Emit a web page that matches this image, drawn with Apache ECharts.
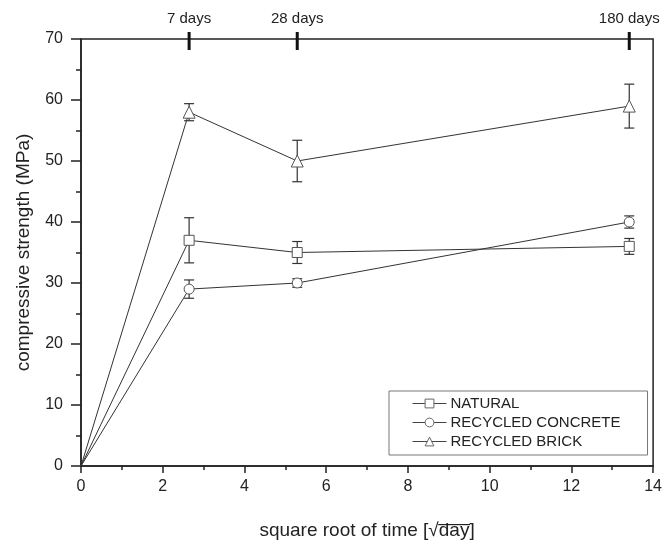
<!DOCTYPE html>
<html>
<head>
<meta charset="utf-8">
<script src="https://cdn.jsdelivr.net/npm/echarts@6/dist/echarts.min.js"></script>
<style>
  html, body { margin: 0; padding: 0; background: #fff; }
  #chart { width: 665px; height: 549px; }
</style>
</head>
<body>
<div id="chart"></div>
<script>
// age of the specimens in days, plotted on a sqrt(day) axis
const ages = [0, 7, 28, 180];
const topTickAges = [7, 28, 180];

// compressive strength (MPa) and error bar half-widths
const natural = [0, 37, 35, 36];
const naturalErr = [0, 3.7, 1.8, 1.3];
const recycledConcrete = [0, 29, 30, 40];
const recycledConcreteErr = [0, 1.5, 0.7, 1.0];
const recycledBrick = [0, 58, 50, 59];
const recycledBrickErr = [0, 1.4, 3.4, 3.6];

const seriesNames = ['NATURAL', 'RECYCLED CONCRETE', 'RECYCLED BRICK'];
const symbols = ['rect', 'circle', 'triangle'];

const xs = ages.map(a => Math.sqrt(a));
const topTicks = topTickAges.map(a => Math.sqrt(a));

const FONT = 'Liberation Sans, Arial, sans-serif';
const INK = '#222';
const Y_MAX = 70;

function lineSeries(name, values, symbol) {
    return {
        name: name,
        type: 'line',
        // no marker at the origin
        data: xs.map((x, i) => i === 0 ? { value: [x, values[i]], symbol: 'none' } : [x, values[i]]),
        symbol: symbol,
        symbolSize: symbol === 'triangle' ? 12 : 10,
        showAllSymbol: true,
        lineStyle: { color: '#333', width: 1 },
        itemStyle: { color: '#fff', borderColor: '#555', borderWidth: 1 },
        z: 3
    };
}

function errorSeries(values, errs) {
    return {
        type: 'custom',
        data: xs.map((x, i) => [x, values[i], errs[i]]).filter(d => d[2] > 0),
        renderItem: function(params, api) {
            const x = api.value(0), y = api.value(1), e = api.value(2);
            const hi = api.coord([x, y + e]);
            const lo = api.coord([x, y - e]);
            const w = 5;
            const style = { stroke: '#333', lineWidth: 1.2 };
            return {
                type: 'group',
                children: [
                    { type: 'line', shape: { x1: hi[0], y1: hi[1], x2: lo[0], y2: lo[1] }, style: style },
                    { type: 'line', shape: { x1: hi[0] - w, y1: hi[1], x2: hi[0] + w, y2: hi[1] }, style: style },
                    { type: 'line', shape: { x1: lo[0] - w, y1: lo[1], x2: lo[0] + w, y2: lo[1] }, style: style }
                ]
            };
        },
        z: 2,
        silent: true
    };
}

// age ticks crossing the top border (axisTick.customValues lands on the wrong side)
const ageTicks = {
    type: 'custom',
    data: topTicks.map(t => [t, Y_MAX]),
    renderItem: function(params, api) {
        const p = api.coord([api.value(0), api.value(1)]);
        return {
            type: 'line',
            shape: { x1: p[0], y1: p[1] - 7, x2: p[0], y2: p[1] + 11 },
            style: { stroke: '#111', lineWidth: 3 }
        };
    },
    clip: false,
    silent: true,
    z: 4
};

const chart = echarts.init(document.getElementById('chart'));

const option = {
    backgroundColor: '#fff',
    animation: false,
    textStyle: { fontFamily: FONT },
    grid: { left: 81, right: 8.5, top: 39, bottom: 83, show: true, borderColor: INK, borderWidth: 1.5 },
    legend: {
        data: seriesNames,
        orient: 'vertical',
        left: 389,
        top: 391,
        padding: [5, 27, 6, 23],
        itemGap: 4,
        itemWidth: 34,
        itemHeight: 11,
        borderColor: '#777',
        borderWidth: 1,
        lineStyle: { width: 1, color: '#444' },
        itemStyle: { borderWidth: 1, borderColor: '#666', color: '#fff' },
        textStyle: { fontFamily: FONT, fontSize: 15, color: INK, padding: [0, 0, 0, -1] }
    },
    xAxis: [
        {
            type: 'value',
            position: 'bottom',
            min: 0, max: 14, interval: 2,
            name: 'square root of time [√d\u0305a\u0305y\u0305]',
            nameLocation: 'middle',
            nameGap: 55,
            nameTextStyle: { fontSize: 19, color: INK, fontFamily: FONT },
            axisLine: { show: true, onZero: false, lineStyle: { color: INK, width: 1.5 } },
            axisTick: { show: true, length: 7, lineStyle: { color: INK, width: 1.5 } },
            minorTick: { show: true, splitNumber: 2, length: 4, lineStyle: { color: INK, width: 1.5 } },
            axisLabel: { fontSize: 16, color: INK, margin: 13 },
            splitLine: { show: false }
        },
        {
            // sample age labels above the top border
            type: 'value',
            position: 'top',
            min: 0, max: 14,
            axisLine: { show: false },
            axisTick: { show: false },
            axisLabel: {
                show: true,
                customValues: topTicks,
                fontSize: 15,
                color: INK,
                margin: 13,
                formatter: function(v) {
                    const i = topTicks.findIndex(t => Math.abs(t - v) < 1e-6);
                    return i >= 0 ? topTickAges[i] + ' days' : '';
                }
            },
            splitLine: { show: false }
        }
    ],
    yAxis: {
        type: 'value',
        position: 'left',
        min: 0, max: Y_MAX, interval: 10,
        name: 'compressive strength (MPa)',
        nameLocation: 'middle',
        nameGap: 48,
        nameTextStyle: { fontSize: 19, color: INK, fontFamily: FONT },
        axisLine: { show: true, onZero: false, lineStyle: { color: INK, width: 1.5 } },
        axisTick: { show: true, length: 10, lineStyle: { color: INK, width: 1.5 } },
        minorTick: { show: true, splitNumber: 2, length: 5, lineStyle: { color: INK, width: 1.5 } },
        axisLabel: { fontSize: 16, color: INK, margin: 18 },
        splitLine: { show: false }
    },
    series: [
        errorSeries(natural, naturalErr),
        errorSeries(recycledConcrete, recycledConcreteErr),
        errorSeries(recycledBrick, recycledBrickErr),
        lineSeries(seriesNames[0], natural, symbols[0]),
        lineSeries(seriesNames[1], recycledConcrete, symbols[1]),
        lineSeries(seriesNames[2], recycledBrick, symbols[2]),
        ageTicks
    ]
};

chart.setOption(option);
</script>
</body>
</html>
